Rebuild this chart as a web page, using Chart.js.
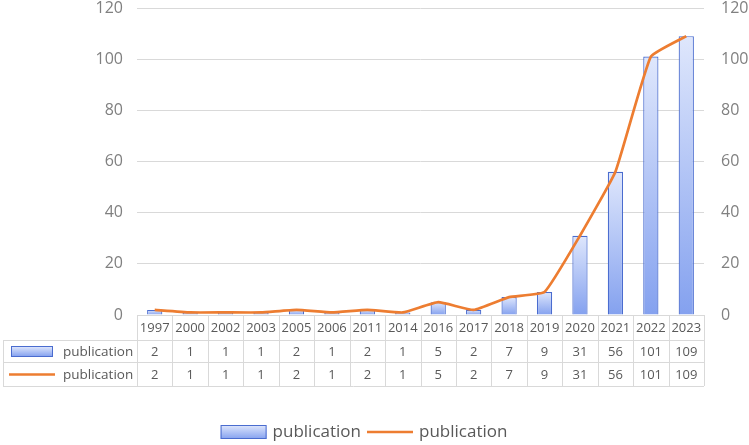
<!DOCTYPE html>
<html>
<head>
<meta charset="utf-8">
<script src="https://cdn.jsdelivr.net/npm/chart.js@4"></script>
<style>
  html, body { margin: 0; padding: 0; background: #fff; }
  #wrap { width: 749px; height: 445px; position: relative; }
</style>
</head>
<body>
<div id="wrap"><canvas id="pubChart" width="749" height="445"></canvas></div>
<script>
// Publications per year: bars + smoothed line, with an Excel-style data table

const years = ['1997', '2000', '2002', '2003', '2005', '2006', '2011', '2014', '2016', '2017', '2018', '2019', '2020', '2021', '2022', '2023'];
const barCounts = [2, 1, 1, 1, 2, 1, 2, 1, 5, 2, 7, 9, 31, 56, 101, 109];
const lineCounts = [2, 1, 1, 1, 2, 1, 2, 1, 5, 2, 7, 9, 31, 56, 101, 109];
const seriesNames = ['publication', 'publication'];
const yTicks = [0, 20, 40, 60, 80, 100, 120];

const FONT = '"Open Sans", "Noto Sans", sans-serif';
const GRID = '#d9d9d9';
const BAR_BORDER = '#4a6ccf';
const LINE_COLOR = '#ed7d31';

const barFill = ctx => {
    const chart = ctx.chart;
    const ys = chart.scales.y;
    if (!ys || ctx.parsed == null) return '#a9bdf4';
    const top = ys.getPixelForValue(ctx.parsed.y);
    const bottom = ys.getPixelForValue(0);
    if (!isFinite(top) || !isFinite(bottom) || top === bottom) return '#a9bdf4';
    const g = chart.ctx.createLinearGradient(0, top, 0, bottom);
    g.addColorStop(0, '#dfe7fc');
    g.addColorStop(1, '#84a1ef');
    return g;
};

// draws the data table under the plot and the bottom legend
const tablePlugin = {
    id: 'dataTable',
    afterDraw(chart) {
        const { ctx, chartArea, scales } = chart;
        const xs = scales.x;
        const n = years.length;
        const colW = (chartArea.right - chartArea.left) / n;
        const top = chartArea.bottom;
        const r1 = top + 25, r2 = top + 47, r3 = top + 71;
        const tableLeft = 3;

        ctx.save();
        ctx.strokeStyle = GRID;
        ctx.lineWidth = 1;

        // horizontal rules
        ctx.beginPath();
        ctx.moveTo(tableLeft, r1 + 0.5); ctx.lineTo(chartArea.right, r1 + 0.5);
        ctx.moveTo(tableLeft, r2 + 0.5); ctx.lineTo(chartArea.right, r2 + 0.5);
        ctx.moveTo(tableLeft, r3 + 0.5); ctx.lineTo(chartArea.right, r3 + 0.5);
        // left border of series rows
        ctx.moveTo(tableLeft + 0.5, r1); ctx.lineTo(tableLeft + 0.5, r3);
        // column separators
        for (let i = 0; i <= n; i++) {
            const x = Math.round(chartArea.left + i * colW) + 0.5;
            ctx.moveTo(x, top); ctx.lineTo(x, r3);
        }
        ctx.stroke();

        // cell texts
        ctx.font = '13px ' + FONT;
        ctx.fillStyle = '#595959';
        ctx.textAlign = 'center';
        ctx.textBaseline = 'middle';
        years.forEach((y, i) => {
            const cx = xs.getPixelForValue(i);
            ctx.fillText(y, cx, (top + r1) / 2 + 1);
            ctx.fillText(String(barCounts[i]), cx, (r1 + r2) / 2 + 1);
            ctx.fillText(String(lineCounts[i]), cx, (r2 + r3) / 2 + 1);
        });

        // row headers with series keys
        ctx.textAlign = 'left';
        const y2 = (r1 + r2) / 2 + 0.5, y3 = (r2 + r3) / 2 + 0.5;
        let g = ctx.createLinearGradient(0, y2 - 5, 0, y2 + 5);
        g.addColorStop(0, '#dfe7fc'); g.addColorStop(1, '#84a1ef');
        ctx.fillStyle = g;
        ctx.fillRect(11, y2 - 5, 41, 10);
        ctx.strokeStyle = BAR_BORDER;
        ctx.strokeRect(11.5, y2 - 5, 41, 10);
        ctx.strokeStyle = LINE_COLOR;
        ctx.lineWidth = 2.5;
        ctx.beginPath(); ctx.moveTo(9, y3); ctx.lineTo(55, y3); ctx.stroke();
        ctx.fillStyle = '#595959';
        ctx.font = '13.5px ' + FONT;
        ctx.fillText(seriesNames[0], 63, y2 + 0.5);
        ctx.fillText(seriesNames[1], 63, y3 + 0.5);

        // bottom legend
        const ly = 432;
        ctx.font = '17px ' + FONT;
        const w0 = ctx.measureText(seriesNames[0]).width;
        const w1 = ctx.measureText(seriesNames[1]).width;
        const total = 46 + 6 + w0 + 6 + 46 + 6 + w1;
        let x = 364 - total / 2;
        g = ctx.createLinearGradient(0, ly - 7, 0, ly + 7);
        g.addColorStop(0, '#dfe7fc'); g.addColorStop(1, '#84a1ef');
        ctx.fillStyle = g;
        ctx.fillRect(x, ly - 7, 46, 14);
        ctx.strokeStyle = BAR_BORDER;
        ctx.lineWidth = 1;
        ctx.strokeRect(x + 0.5, ly - 6.5, 45, 13);
        x += 52;
        ctx.fillStyle = '#595959';
        ctx.fillText(seriesNames[0], x, ly);
        x += w0 + 6;
        ctx.strokeStyle = LINE_COLOR;
        ctx.lineWidth = 2.5;
        ctx.beginPath(); ctx.moveTo(x, ly); ctx.lineTo(x + 46, ly); ctx.stroke();
        x += 52;
        ctx.fillText(seriesNames[1], x, ly);
        ctx.restore();
    }
};

const tickFont = { family: FONT, size: 16 };

new Chart(document.getElementById('pubChart'), {
    data: {
        labels: years,
        datasets: [
            {
                type: 'line',
                label: seriesNames[1],
                data: lineCounts,
                borderColor: LINE_COLOR,
                borderWidth: 2.7,
                pointRadius: 0,
                tension: 0.12,
                yAxisID: 'y',
                order: 0
            },
            {
                type: 'bar',
                label: seriesNames[0],
                data: barCounts,
                backgroundColor: barFill,
                borderColor: BAR_BORDER,
                borderWidth: 1.2,
                barPercentage: 0.43,
                categoryPercentage: 1,
                yAxisID: 'y',
                order: 1
            }
        ]
    },
    options: {
        responsive: false,
        animation: false,
        layout: { padding: { top: 8, bottom: 130, left: 0, right: 0 } },
        plugins: {
            legend: { display: false },
            tooltip: { enabled: false }
        },
        scales: {
            x: { display: false, offset: true },
            y: {
                position: 'left',
                min: 0, max: 120,
                afterBuildTicks: s => { s.ticks = yTicks.map(v => ({ value: v })); },
                afterFit: s => { s.width = 137; s.paddingTop = 0; s.paddingBottom = 0; },
                grid: { color: GRID, lineWidth: 1, drawTicks: false },
                border: { display: false },
                ticks: { color: '#808080', font: tickFont, padding: 14 }
            },
            y2: {
                position: 'right',
                min: 0, max: 120,
                afterBuildTicks: s => { s.ticks = yTicks.map(v => ({ value: v })); },
                afterFit: s => { s.width = 45; s.paddingTop = 0; s.paddingBottom = 0; },
                grid: { display: false },
                border: { display: false },
                ticks: { color: '#808080', font: tickFont, padding: 9 }
            }
        }
    },
    plugins: [tablePlugin]
});
</script>
</body>
</html>
